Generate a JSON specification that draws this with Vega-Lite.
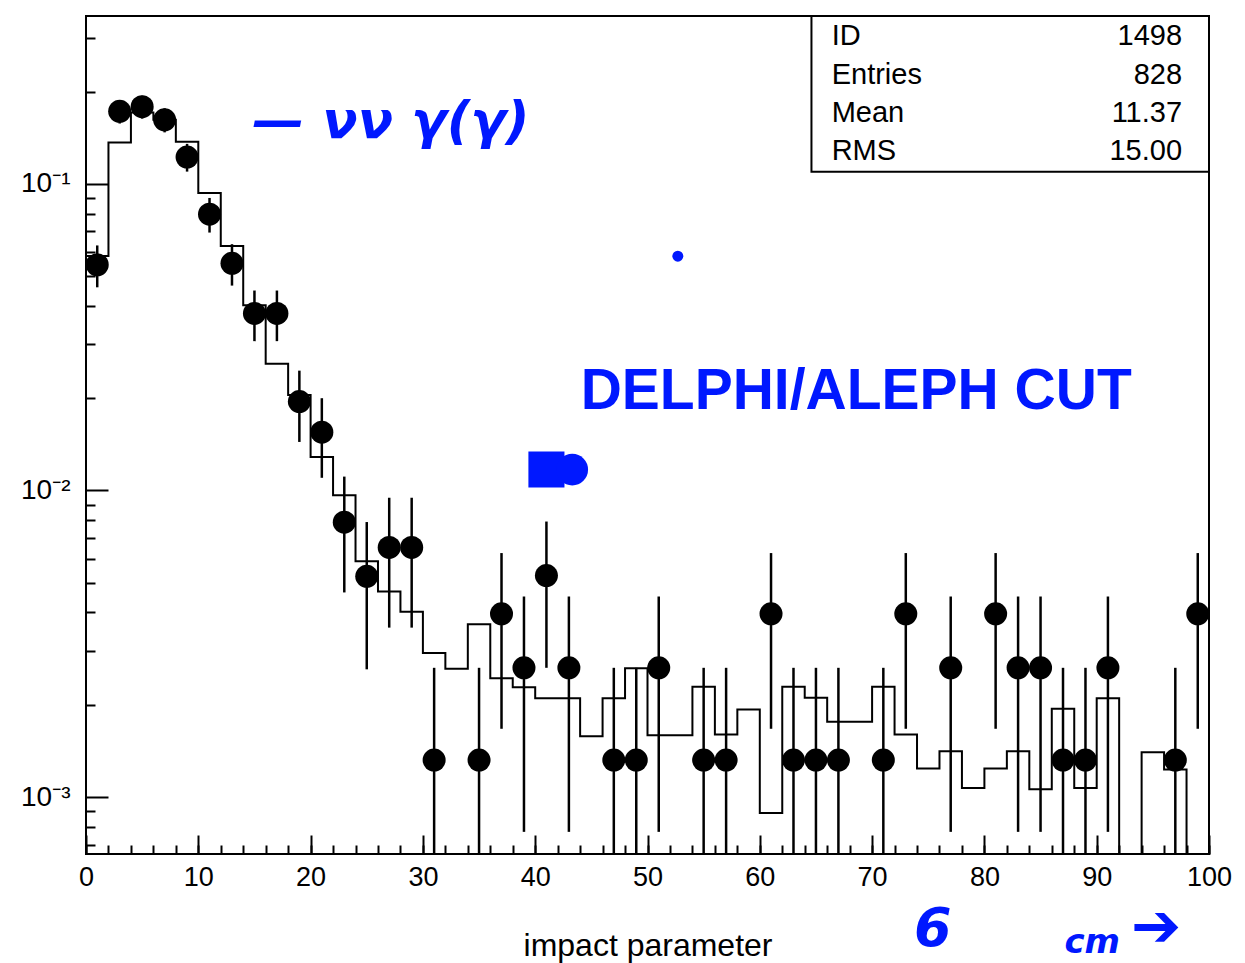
{
  "$schema": "https://vega.github.io/schema/vega-lite/v6.json",
  "width": 1123,
  "height": 838,
  "autosize": {"type": "none"},
  "padding": {"left": 86, "top": 16, "right": 36, "bottom": 109},
  "background": "white",
  "config": {
    "view": {"stroke": "black", "strokeWidth": 2},
    "axis": {"labelFont": "Liberation Sans", "titleFont": "Liberation Sans", "labelColor": "black", "titleColor": "black", "tickColor": "black", "grid": false}
  },
  "datasets": {
    "hist": [
      {"lo": 0, "v": 0.0582}, {"lo": 2, "v": 0.1364}, {"lo": 4, "v": 0.171}, {"lo": 6, "v": 0.162}, {"lo": 8, "v": 0.1374},
      {"lo": 10, "v": 0.0935}, {"lo": 12, "v": 0.0627}, {"lo": 14, "v": 0.0402}, {"lo": 16, "v": 0.0259}, {"lo": 18, "v": 0.0205},
      {"lo": 20, "v": 0.01285}, {"lo": 22, "v": 0.00964}, {"lo": 24, "v": 0.00588}, {"lo": 26, "v": 0.00468}, {"lo": 28, "v": 0.00402},
      {"lo": 30, "v": 0.00295}, {"lo": 32, "v": 0.00262}, {"lo": 34, "v": 0.00366}, {"lo": 36, "v": 0.00244}, {"lo": 38, "v": 0.00228},
      {"lo": 40, "v": 0.0021}, {"lo": 42, "v": 0.0021}, {"lo": 44, "v": 0.00158}, {"lo": 46, "v": 0.0021}, {"lo": 48, "v": 0.00263},
      {"lo": 50, "v": 0.00159}, {"lo": 52, "v": 0.00159}, {"lo": 54, "v": 0.00229}, {"lo": 56, "v": 0.0016}, {"lo": 58, "v": 0.00193},
      {"lo": 60, "v": 0.000887}, {"lo": 62, "v": 0.00229}, {"lo": 64, "v": 0.00211}, {"lo": 66, "v": 0.00176}, {"lo": 68, "v": 0.00176},
      {"lo": 70, "v": 0.00229}, {"lo": 72, "v": 0.0016}, {"lo": 74, "v": 0.00124}, {"lo": 76, "v": 0.00141}, {"lo": 78, "v": 0.00107},
      {"lo": 80, "v": 0.00124}, {"lo": 82, "v": 0.00141}, {"lo": 84, "v": 0.00106}, {"lo": 86, "v": 0.00194}, {"lo": 88, "v": 0.00107},
      {"lo": 90, "v": 0.0021}, {"lo": 92, "v": 0}, {"lo": 94, "v": 0.0014}, {"lo": 96, "v": 0.00123}, {"lo": 98, "v": 0},
      {"lo": 100, "v": 0}
    ],
    "pts": [
      {"x": 1, "v": 0.0545, "elo": 0.046, "ehi": 0.063},
      {"x": 3, "v": 0.1725, "elo": 0.1574, "ehi": 0.1876},
      {"x": 5, "v": 0.1786, "elo": 0.1633, "ehi": 0.194},
      {"x": 7, "v": 0.1619, "elo": 0.1473, "ehi": 0.1765},
      {"x": 9, "v": 0.1224, "elo": 0.1097, "ehi": 0.1351},
      {"x": 11, "v": 0.0797, "elo": 0.0694, "ehi": 0.09},
      {"x": 13, "v": 0.0551, "elo": 0.0466, "ehi": 0.0636},
      {"x": 15, "v": 0.0378, "elo": 0.0307, "ehi": 0.0449},
      {"x": 17, "v": 0.0378, "elo": 0.0307, "ehi": 0.0449},
      {"x": 19, "v": 0.0195, "elo": 0.0144, "ehi": 0.0246},
      {"x": 21, "v": 0.0155, "elo": 0.011, "ehi": 0.02},
      {"x": 23, "v": 0.00788, "elo": 0.00465, "ehi": 0.0111},
      {"x": 25, "v": 0.00525, "elo": 0.00261, "ehi": 0.00789},
      {"x": 27, "v": 0.00652, "elo": 0.00357, "ehi": 0.00947},
      {"x": 29, "v": 0.00652, "elo": 0.00357, "ehi": 0.00947},
      {"x": 31, "v": 0.00132, "elo": 0, "ehi": 0.00264},
      {"x": 35, "v": 0.00132, "elo": 0, "ehi": 0.00264},
      {"x": 37, "v": 0.00396, "elo": 0.00167, "ehi": 0.00625},
      {"x": 39, "v": 0.00264, "elo": 0.00077, "ehi": 0.00451},
      {"x": 41, "v": 0.00528, "elo": 0.00264, "ehi": 0.00792},
      {"x": 43, "v": 0.00264, "elo": 0.00077, "ehi": 0.00451},
      {"x": 47, "v": 0.00132, "elo": 0, "ehi": 0.00264},
      {"x": 49, "v": 0.00132, "elo": 0, "ehi": 0.00264},
      {"x": 51, "v": 0.00264, "elo": 0.00077, "ehi": 0.00451},
      {"x": 55, "v": 0.00132, "elo": 0, "ehi": 0.00264},
      {"x": 57, "v": 0.00132, "elo": 0, "ehi": 0.00264},
      {"x": 61, "v": 0.00396, "elo": 0.00167, "ehi": 0.00625},
      {"x": 63, "v": 0.00132, "elo": 0, "ehi": 0.00264},
      {"x": 65, "v": 0.00132, "elo": 0, "ehi": 0.00264},
      {"x": 67, "v": 0.00132, "elo": 0, "ehi": 0.00264},
      {"x": 71, "v": 0.00132, "elo": 0, "ehi": 0.00264},
      {"x": 73, "v": 0.00396, "elo": 0.00167, "ehi": 0.00625},
      {"x": 77, "v": 0.00264, "elo": 0.00077, "ehi": 0.00451},
      {"x": 81, "v": 0.00396, "elo": 0.00167, "ehi": 0.00625},
      {"x": 83, "v": 0.00264, "elo": 0.00077, "ehi": 0.00451},
      {"x": 85, "v": 0.00264, "elo": 0.00077, "ehi": 0.00451},
      {"x": 87, "v": 0.00132, "elo": 0, "ehi": 0.00264},
      {"x": 89, "v": 0.00132, "elo": 0, "ehi": 0.00264},
      {"x": 91, "v": 0.00264, "elo": 0.00077, "ehi": 0.00451},
      {"x": 97, "v": 0.00132, "elo": 0, "ehi": 0.00264},
      {"x": 99, "v": 0.00396, "elo": 0.00167, "ehi": 0.00625}
    ],
    "stats": [
      {"k": "ID", "val": "1498", "y": 0.304},
      {"k": "Entries", "val": "828", "y": 0.227},
      {"k": "Mean", "val": "11.37", "y": 0.1706},
      {"k": "RMS", "val": "15.00", "y": 0.1283}
    ]
  },
  "resolve": {"scale": {"x": "independent", "y": "independent"}, "axis": {"x": "independent", "y": "independent"}},
  "layer": [
    {
      "data": {"values": [{"x1": 64.6, "x2": 100, "y1": 0.1095, "y2": 0.353}]},
      "mark": {"type": "rect", "fill": "white", "stroke": "black", "strokeWidth": 2},
      "encoding": {
        "x": {"field": "x1", "type": "quantitative", "scale": {"domain": [0, 100], "nice": false}, "axis": null},
        "x2": {"field": "x2"},
        "y": {"field": "y1", "type": "quantitative", "scale": {"type": "log", "domain": [0.000652, 0.353], "nice": false}, "axis": null},
        "y2": {"field": "y2"}
      }
    },
    {
      "data": {"name": "stats"},
      "mark": {"type": "text", "align": "left", "baseline": "middle", "font": "Liberation Sans", "fontSize": 29, "color": "black"},
      "encoding": {
        "x": {"datum": 66.4, "type": "quantitative", "scale": {"domain": [0, 100], "nice": false}, "axis": null},
        "y": {"field": "y", "type": "quantitative", "scale": {"type": "log", "domain": [0.000652, 0.353], "nice": false}, "axis": null},
        "text": {"field": "k"}
      }
    },
    {
      "data": {"name": "stats"},
      "mark": {"type": "text", "align": "right", "baseline": "middle", "font": "Liberation Sans", "fontSize": 29, "color": "black"},
      "encoding": {
        "x": {"datum": 97.6, "type": "quantitative", "scale": {"domain": [0, 100], "nice": false}, "axis": null},
        "y": {"field": "y", "type": "quantitative", "scale": {"type": "log", "domain": [0.000652, 0.353], "nice": false}, "axis": null},
        "text": {"field": "val"}
      }
    },
    {
      "data": {"name": "hist"},
      "mark": {"type": "line", "interpolate": "step-after", "color": "black", "strokeWidth": 2, "invalid": "show", "clip": true},
      "encoding": {
        "x": {"field": "lo", "type": "quantitative", "scale": {"domain": [0, 100], "nice": false},
          "axis": {"orient": "bottom", "values": [0, 10, 20, 30, 40, 50, 60, 70, 80, 90, 100], "ticks": false, "domain": false, "labelFontSize": 27, "labelPadding": 10, "labelFlush": false, "labelOverlap": false,
            "title": "impact parameter", "titleFontSize": 32, "titleFontWeight": "normal", "titlePadding": 40}},
        "y": {"field": "v", "type": "quantitative", "scale": {"type": "log", "domain": [0.000652, 0.353], "nice": false, "clamp": true},
          "axis": {"orient": "left", "values": [0.001, 0.01, 0.1], "ticks": false, "domain": false, "labelFontSize": 28, "labelPadding": 16, "title": null,
            "labelExpr": "datum.value > 0.05 ? '10⁻¹' : (datum.value > 0.005 ? '10⁻²' : '10⁻³')"}}
      }
    },
    {
      "data": {"name": "pts"},
      "mark": {"type": "rule", "color": "black", "strokeWidth": 2.5, "invalid": "show", "clip": true},
      "encoding": {
        "x": {"field": "x", "type": "quantitative", "scale": {"domain": [0, 100], "nice": false},
          "axis": {"orient": "bottom", "values": [0, 2, 4, 6, 8, 10, 12, 14, 16, 18, 20, 22, 24, 26, 28, 30, 32, 34, 36, 38, 40, 42, 44, 46, 48, 50, 52, 54, 56, 58, 60, 62, 64, 66, 68, 70, 72, 74, 76, 78, 80, 82, 84, 86, 88, 90, 92, 94, 96, 98, 100],
            "labels": false, "domain": false, "tickSize": -9, "tickWidth": 2, "title": null}},
        "y": {"field": "elo", "type": "quantitative", "scale": {"type": "log", "domain": [0.000652, 0.353], "nice": false, "clamp": true},
          "axis": {"orient": "left", "values": [0.0007, 0.0008, 0.0009, 0.002, 0.003, 0.004, 0.005, 0.006, 0.007, 0.008, 0.009, 0.02, 0.03, 0.04, 0.05, 0.06, 0.07, 0.08, 0.09, 0.2, 0.3],
            "labels": false, "domain": false, "tickSize": -9, "tickWidth": 2, "title": null}},
        "y2": {"field": "ehi"}
      }
    },
    {
      "data": {"name": "pts"},
      "mark": {"type": "point", "shape": "circle", "filled": true, "color": "black", "opacity": 1, "size": 530},
      "encoding": {
        "x": {"field": "x", "type": "quantitative", "scale": {"domain": [0, 100], "nice": false},
          "axis": {"orient": "bottom", "values": [0, 10, 20, 30, 40, 50, 60, 70, 80, 90, 100], "labels": false, "domain": false, "tickSize": -19, "tickWidth": 2, "title": null}},
        "y": {"field": "v", "type": "quantitative", "scale": {"type": "log", "domain": [0.000652, 0.353], "nice": false, "clamp": true},
          "axis": {"orient": "left", "values": [0.001, 0.01, 0.1], "labels": false, "domain": false, "tickSize": -22, "tickWidth": 2, "title": null}}
      }
    },
    {
      "data": {"values": [{"x": 14.8, "y": 0.1589, "t": "—  νν γ(γ)"}]},
      "mark": {"type": "text", "align": "left", "baseline": "middle", "font": "DejaVu Sans", "fontStyle": "italic", "fontWeight": "bold", "fontSize": 52, "color": "#0018ff"},
      "encoding": {
        "x": {"field": "x", "type": "quantitative", "scale": {"domain": [0, 100], "nice": false}, "axis": null},
        "y": {"field": "y", "type": "quantitative", "scale": {"type": "log", "domain": [0.000652, 0.353], "nice": false}, "axis": null},
        "text": {"field": "t"}
      }
    },
    {
      "data": {"values": [{"x": 44.05, "y": 0.0209, "t": "DELPHI/ALEPH CUT"}]},
      "mark": {"type": "text", "align": "left", "baseline": "middle", "font": "Liberation Sans", "fontWeight": "bold", "fontSize": 57, "color": "#0018ff"},
      "encoding": {
        "x": {"field": "x", "type": "quantitative", "scale": {"domain": [0, 100], "nice": false}, "axis": null},
        "y": {"field": "y", "type": "quantitative", "scale": {"type": "log", "domain": [0.000652, 0.353], "nice": false}, "axis": null},
        "text": {"field": "t"}
      }
    },
    {
      "data": {"values": [{"x": 52.7, "y": 0.0581}]},
      "mark": {"type": "point", "shape": "circle", "filled": true, "color": "#0018ff", "opacity": 1, "size": 120},
      "encoding": {
        "x": {"field": "x", "type": "quantitative", "scale": {"domain": [0, 100], "nice": false}, "axis": null},
        "y": {"field": "y", "type": "quantitative", "scale": {"type": "log", "domain": [0.000652, 0.353], "nice": false}, "axis": null}
      }
    },
    {
      "data": {"values": [{"x": 41.0, "y": 0.0117}]},
      "mark": {"type": "point", "shape": "square", "filled": true, "color": "#0018ff", "opacity": 1, "size": 1300},
      "encoding": {
        "x": {"field": "x", "type": "quantitative", "scale": {"domain": [0, 100], "nice": false}, "axis": null},
        "y": {"field": "y", "type": "quantitative", "scale": {"type": "log", "domain": [0.000652, 0.353], "nice": false}, "axis": null}
      }
    },
    {
      "data": {"values": [{"x": 43.3, "y": 0.0117}]},
      "mark": {"type": "point", "shape": "circle", "filled": true, "color": "#0018ff", "opacity": 1, "size": 1000},
      "encoding": {
        "x": {"field": "x", "type": "quantitative", "scale": {"domain": [0, 100], "nice": false}, "axis": null},
        "y": {"field": "y", "type": "quantitative", "scale": {"type": "log", "domain": [0.000652, 0.353], "nice": false}, "axis": null}
      }
    },
    {
      "data": {"values": [{"x": 75.4, "y": 0.000368, "t": "6"}]},
      "mark": {"type": "text", "align": "center", "baseline": "middle", "font": "DejaVu Sans", "fontStyle": "italic", "fontWeight": "bold", "fontSize": 54, "color": "#0018ff"},
      "encoding": {
        "x": {"field": "x", "type": "quantitative", "scale": {"domain": [0, 100], "nice": false}, "axis": null},
        "y": {"field": "y", "type": "quantitative", "scale": {"type": "log", "domain": [0.000652, 0.353], "nice": false}, "axis": null},
        "text": {"field": "t"}
      }
    },
    {
      "data": {"values": [{"x": 89.6, "y": 0.000335, "t": "cm"}]},
      "mark": {"type": "text", "align": "center", "baseline": "middle", "font": "DejaVu Sans", "fontStyle": "italic", "fontWeight": "bold", "fontSize": 34, "color": "#0018ff"},
      "encoding": {
        "x": {"field": "x", "type": "quantitative", "scale": {"domain": [0, 100], "nice": false}, "axis": null},
        "y": {"field": "y", "type": "quantitative", "scale": {"type": "log", "domain": [0.000652, 0.353], "nice": false}, "axis": null},
        "text": {"field": "t"}
      }
    },
    {
      "data": {"values": [{"x": 95.3, "y": 0.000375, "t": "➔"}]},
      "mark": {"type": "text", "align": "center", "baseline": "middle", "font": "DejaVu Sans", "fontWeight": "bold", "fontSize": 60, "color": "#0018ff"},
      "encoding": {
        "x": {"field": "x", "type": "quantitative", "scale": {"domain": [0, 100], "nice": false}, "axis": null},
        "y": {"field": "y", "type": "quantitative", "scale": {"type": "log", "domain": [0.000652, 0.353], "nice": false}, "axis": null},
        "text": {"field": "t"}
      }
    }
  ]
}
